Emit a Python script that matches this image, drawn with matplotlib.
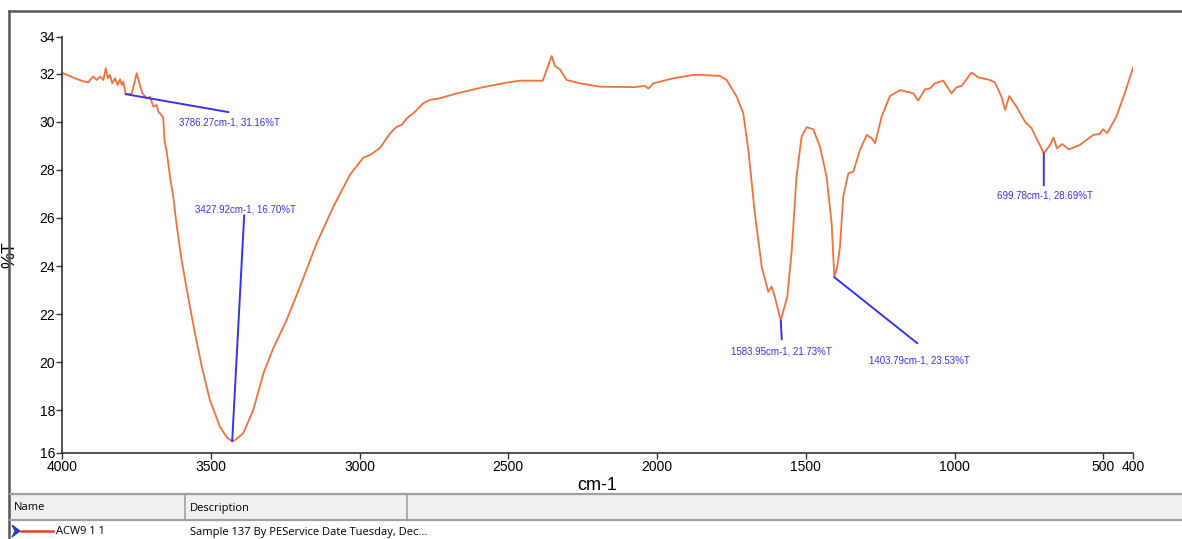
import matplotlib
matplotlib.use("Agg")
import matplotlib.pyplot as plt
from matplotlib.lines import Line2D
from matplotlib.patches import Rectangle, Polygon

# spectrum (wavenumber cm-1, %T)
wavenumber = [4000, 3956, 3930, 3911, 3906, 3895, 3883, 3872, 3861, 3853, 3846, 3839,
              3831, 3822, 3813, 3805, 3799, 3794, 3786, 3766, 3757, 3749, 3741, 3730,
              3715, 3704, 3693, 3682, 3676, 3667, 3660, 3655, 3648, 3637, 3626, 3614,
              3598, 3570, 3553, 3530, 3503, 3469, 3445, 3428, 3418, 3391, 3357, 3323,
              3290, 3245, 3200, 3144, 3088, 3032, 2987, 2965, 2931, 2897, 2875, 2858,
              2841, 2813, 2786, 2763, 2729, 2673, 2584, 2505, 2461, 2384, 2365, 2354,
              2343, 2326, 2304, 2259, 2192, 2080, 2040, 2029, 2012, 1945, 1878, 1855,
              1788, 1766, 1732, 1710, 1693, 1671, 1648, 1626, 1615, 1604, 1584, 1562,
              1547, 1531, 1514, 1497, 1475, 1452, 1430, 1413, 1404, 1394, 1385, 1374,
              1357, 1340, 1318, 1295, 1278, 1267, 1245, 1217, 1183, 1138, 1122, 1099,
              1082, 1066, 1038, 1010, 993, 976, 943, 920, 881, 864, 842, 830,
              816, 792, 763, 741, 716, 700, 679, 667, 656, 638, 616, 579,
              534, 512, 501, 487, 456, 428, 400]
transmittance = [32.05, 31.82, 31.70, 31.65, 31.75, 31.89, 31.75, 31.89, 31.75, 32.24, 31.82, 31.96,
                 31.61, 31.82, 31.54, 31.78, 31.54, 31.68, 31.16, 31.17, 31.61, 32.03, 31.68, 31.19,
                 30.99, 31.05, 30.64, 30.71, 30.43, 30.30, 30.20, 29.20, 28.76, 27.72, 26.89, 25.64,
                 24.25, 22.30, 21.20, 19.80, 18.42, 17.30, 16.85, 16.70, 16.75, 17.03, 18.00, 19.53,
                 20.57, 21.75, 23.14, 24.95, 26.47, 27.80, 28.52, 28.62, 28.92, 29.53, 29.80, 29.88,
                 30.15, 30.43, 30.78, 30.92, 30.99, 31.19, 31.45, 31.64, 31.72, 31.72, 32.38, 32.75,
                 32.33, 32.19, 31.75, 31.61, 31.47, 31.45, 31.50, 31.39, 31.61, 31.82, 31.96, 31.96,
                 31.92, 31.75, 31.05, 30.36, 28.83, 26.19, 23.97, 22.93, 23.14, 22.72, 21.73, 22.72,
                 24.67, 27.72, 29.39, 29.78, 29.70, 28.97, 27.72, 25.78, 23.53, 23.97, 24.80, 26.89,
                 27.86, 27.93, 28.83, 29.46, 29.32, 29.11, 30.22, 31.08, 31.33, 31.19, 30.89, 31.36,
                 31.40, 31.61, 31.72, 31.19, 31.45, 31.50, 32.06, 31.86, 31.75, 31.64, 31.05, 30.50,
                 31.08, 30.64, 30.01, 29.74, 29.11, 28.69, 29.04, 29.36, 28.90, 29.08, 28.86, 29.04,
                 29.46, 29.50, 29.70, 29.53, 30.22, 31.19, 32.25]

# labelled peaks
peak_wn = [3786.27, 3427.92, 1583.95, 1403.79, 699.78]
peak_t = [31.16, 16.70, 21.73, 23.53, 28.69]

xticks = [4000, 3500, 3000, 2500, 2000, 1500, 1000, 500, 400]
ylow, yhigh = 16.21, 33.54
ytick_pos = [ylow, 18, 20, 22, 24, 26, 28, 30, 32, yhigh]
ytick_lab = ['16', '18', '20', '22', '24', '26', '28', '30', '32', '34']

orange = '#F4703A'
blue = '#3434F0'
narrow = ['Liberation Sans Narrow', 'Liberation Sans', 'DejaVu Sans']

W, H = 1182, 539
fig = plt.figure(figsize=(W / 100, H / 100), dpi=100)
ax = fig.add_axes([62 / W, 1 - 453 / H, (1133 - 62) / W, (453 - 37) / H])

ax.plot(wavenumber, transmittance, color=orange, lw=1.3)
ax.set_xlim(4000, 400)
ax.set_ylim(ylow, yhigh)
ax.set_xticks(xticks)
ax.set_xticklabels([str(t) for t in xticks], family=narrow, fontsize=10)
ax.set_yticks(ytick_pos)
ax.set_yticklabels(ytick_lab, family=narrow, fontsize=10)
ax.tick_params(axis='both', direction='out', length=4, width=1, color='#333333', pad=1)
for s in ['top', 'right']:
    ax.spines[s].set_visible(False)
for s in ['left', 'bottom']:
    ax.spines[s].set_color('#333333')
    ax.spines[s].set_linewidth(1.2)

ax.set_xlabel('cm-1', fontsize=13, family=narrow, labelpad=2)
ax.set_ylabel('%T', fontsize=13, family=narrow)
ax.yaxis.set_label_coords(-0.041, 0.476)

# annotation lines and labels (offsets in pixels from the peak)
line_off = [(103, -18), (12, 226), (1, -19), (83, -66), (0, -32)]
text_off = [(104, -28), (13, 232), (1, -31), (85, -83), (1, -42)]
for wn, t, lo, to in zip(peak_wn, peak_t, line_off, text_off):
    ax.annotate('', xy=(wn, t), xytext=lo, textcoords='offset pixels',
                arrowprops=dict(arrowstyle='-', color=blue, lw=1.4, shrinkA=0, shrinkB=0))
    ax.annotate(f'{wn:.2f}cm-1, {t:.2f}%T', xy=(wn, t), xytext=to, textcoords='offset pixels',
                ha='center', va='center', color=blue, fontsize=7, family=narrow)


def fx(px):
    return px / W


def fy(py):
    return 1 - py / H


# outer window frame
fig.add_artist(Line2D([fx(9), fx(W)], [fy(11), fy(11)], color='#555555', lw=1.8))
fig.add_artist(Line2D([fx(9), fx(9)], [fy(11), fy(H)], color='#555555', lw=1.8))

# list table at the bottom
fig.add_artist(Rectangle((fx(10), fy(520)), fx(W - 10), (520 - 494) / H,
                         facecolor='#F0F0F0', edgecolor='none', transform=fig.transFigure))
for yy in [494, 520]:
    fig.add_artist(Line2D([fx(10), fx(W)], [fy(yy), fy(yy)], color='#A0A0A0', lw=1.6))
for xx in [185, 407]:
    fig.add_artist(Line2D([fx(xx), fx(xx)], [fy(494), fy(520)], color='#A0A0A0', lw=1.2))
fig.text(fx(14), fy(508), 'Name', fontsize=8, family='Open Sans', va='center')
fig.text(fx(190), fy(508), 'Description', fontsize=8, family='Open Sans', va='center')
fig.add_artist(Polygon([(fx(12), fy(525)), (fx(20), fy(531)), (fx(12), fy(537)), (fx(15), fy(531))],
                       closed=True, facecolor='#1F3FBF', edgecolor='#1F3FBF', lw=0.8,
                       transform=fig.transFigure))
fig.add_artist(Line2D([fx(21), fx(53)], [fy(531), fy(531)], color='#E8401C', lw=1.8))
fig.text(fx(56), fy(532), 'ACW9 1 1', fontsize=8, family='Open Sans', va='center')
fig.text(fx(190), fy(532), 'Sample 137 By PEService Date Tuesday, Dec...', fontsize=8,
         family='Open Sans', va='center')

fig.savefig('out.png', dpi=100)
